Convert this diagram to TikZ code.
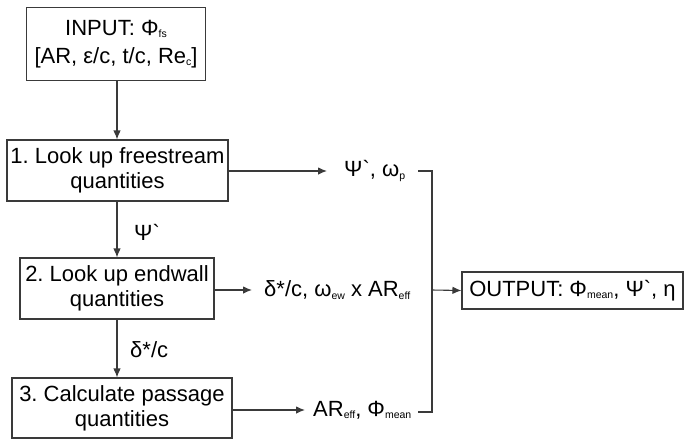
\documentclass[tikz,border=0pt]{standalone}
\usepackage{fontspec}
\newfontfamily\arialf{Liberation Sans}
\usetikzlibrary{arrows.meta,calc}
\newcommand\sbx[1]{\raisebox{-2.5pt}{\fontsize{10.5}{11}\selectfont #1}}
\newcommand\grv{\char"60\relax}
\definecolor{linec}{HTML}{3A3A3A}
\frenchspacing
\begin{document}
\begin{tikzpicture}[x=1pt,y=-1pt,
  every node/.style={font=\arialf\fontsize{22}{25}\selectfont\frenchspacing, text=black},
  box/.style={draw=linec, line width=1.1pt, align=center, inner sep=0pt},
  lbl/.style={inner ysep=0pt, anchor=west},
  conn/.style={draw=linec, line width=1.1pt},
  arr/.style={conn, -{Latex[length=9pt,width=7.5pt]}}]
\useasboundingbox (0,0) rectangle (685,440);
\node[box, minimum width=179pt, minimum height=73pt] (in) at (116,44)
  {INPUT: Φ\sbx{fs}\\[3pt]{}[AR, ε/c, t/c, Re\sbx{c}]};
\node[box, minimum width=221pt, minimum height=61pt] (b1) at (117.5,170.5)
  {1. Look up freestream\\quantities};
\node[box, minimum width=194pt, minimum height=61pt] (b2) at (117,288.5)
  {2. Look up endwall\\quantities};
\node[box, minimum width=220pt, minimum height=60pt] (b3) at (122,408)
  {3. Calculate passage\\quantities};
\node[box, minimum width=221pt, minimum height=37pt] (out) at (572.5,290.5)
  {OUTPUT: Φ\sbx{mean}, Ψ\grv, η};
% side labels
\node[lbl, inner xsep=17pt] (l1) at (327,171) {Ψ\grv, ω\sbx{p}};
\node[lbl, inner xsep=12pt] (l2) at (252,290) {δ*/c, ω\sbx{ew} x AR\sbx{eff}};
\node[lbl, inner xsep=8pt] (l3) at (305,410) {AR\sbx{eff}, Φ\sbx{mean}};
% vertical labels
\node[lbl, inner xsep=0pt] (v1) at (134,232) {Ψ\grv};
\node[lbl, inner xsep=0pt] (v2) at (130,350) {δ*/c};
% coordinates for the collector
\coordinate (s1) at (418,171);
\coordinate (c1) at (432,171);
\coordinate (c2) at (432,290);
\coordinate (c3) at (432,412);
\coordinate (s3) at (418,412);
% connectors
\draw[arr] (in.south -| 117,0) -- (b1.north -| 117,0);
\draw[arr] (b1.south -| 117,0) -- (b2.north -| 117,0);
\draw[arr] (b2.south -| 117,0) -- (b3.north -| 117,0);
\draw[arr] (b1.east |- l1.west) -- (l1.west);
\draw[arr] (b2.east |- l2.west) -- (l2.west);
\draw[arr] (b3.east |- l3.west) -- (l3.west);
\draw[conn] (s1) -- (c1) -- (c3) -- (s3);
\draw[arr] (c2) -- (out.west);
\end{tikzpicture}
\end{document}
